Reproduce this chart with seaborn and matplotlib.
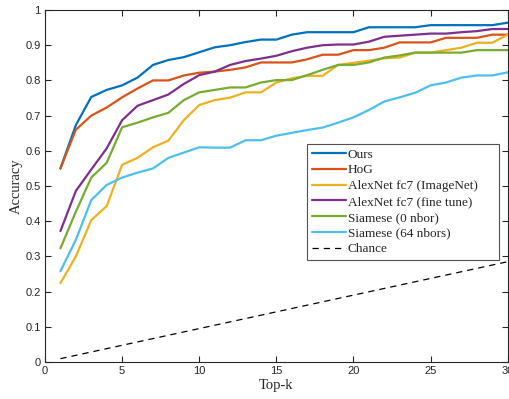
import numpy as np
import pandas as pd
import seaborn as sns
import matplotlib.pyplot as plt

# top-k values
k = list(range(1, 31))

ours = [0.55, 0.673, 0.753, 0.773, 0.786, 0.808, 0.844, 0.858, 0.866, 0.88,
        0.894, 0.90, 0.909, 0.916, 0.916, 0.93, 0.937, 0.937, 0.937, 0.937,
        0.951, 0.951, 0.951, 0.951, 0.957, 0.957, 0.957, 0.957, 0.957, 0.964]
hog = [0.55, 0.66, 0.70, 0.723, 0.752, 0.777, 0.80, 0.80, 0.814, 0.822,
       0.825, 0.83, 0.837, 0.851, 0.851, 0.851, 0.86, 0.873, 0.873, 0.886,
       0.886, 0.893, 0.908, 0.908, 0.908, 0.921, 0.921, 0.921, 0.93, 0.93]
alex_imagenet = [0.224, 0.30, 0.403, 0.443, 0.56, 0.58, 0.61, 0.629, 0.687, 0.73,
                 0.744, 0.751, 0.766, 0.766, 0.794, 0.806, 0.813, 0.813, 0.844, 0.85,
                 0.856, 0.863, 0.865, 0.879, 0.879, 0.886, 0.893, 0.907, 0.907, 0.93]
alex_finetune = [0.372, 0.486, 0.547, 0.607, 0.687, 0.728, 0.744, 0.76, 0.79, 0.815,
                 0.825, 0.844, 0.855, 0.862, 0.87, 0.883, 0.893, 0.90, 0.902, 0.902,
                 0.91, 0.924, 0.927, 0.93, 0.933, 0.933, 0.937, 0.94, 0.946, 0.946]
siamese0 = [0.323, 0.427, 0.524, 0.566, 0.667, 0.68, 0.695, 0.708, 0.744, 0.766,
            0.773, 0.78, 0.78, 0.794, 0.801, 0.801, 0.815, 0.83, 0.844, 0.844,
            0.851, 0.865, 0.871, 0.879, 0.879, 0.879, 0.879, 0.886, 0.886, 0.886]
siamese64 = [0.258, 0.347, 0.46, 0.503, 0.524, 0.538, 0.55, 0.58, 0.595, 0.61,
             0.609, 0.609, 0.63, 0.63, 0.643, 0.651, 0.659, 0.666, 0.68, 0.695,
             0.716, 0.74, 0.752, 0.765, 0.786, 0.794, 0.808, 0.814, 0.814, 0.823]
chance_k = [1, 30]
chance = [0.0095, 0.285]

names = ['Ours', 'HoG', 'AlexNet fc7 (ImageNet)', 'AlexNet fc7 (fine tune)',
         'Siamese (0 nbor)', 'Siamese (64 nbors)']
colors = ['#0072BD', '#D95319', '#EDB120', '#7E2F8E', '#77AC30', '#4DBEEE']
series = [ours, hog, alex_imagenet, alex_finetune, siamese0, siamese64]

df = pd.DataFrame({
    'Top-k': k * len(names),
    'Accuracy': sum(series, []),
    'method': np.repeat(names, len(k)),
})

sns.set_style('white')
plt.rcParams['font.family'] = ['Liberation Sans', 'DejaVu Sans']
axis_col = '#262626'

fig = plt.figure(figsize=(5.09, 3.99), dpi=100)
ax = fig.add_axes([0.0884, 0.0927, 0.9091, 0.8822])

sns.lineplot(data=df, x='Top-k', y='Accuracy', hue='method', hue_order=names,
             palette=colors, linewidth=1.6, ax=ax)
ax.plot(chance_k, chance, color='black', linestyle=(0, (5, 4)), linewidth=0.9,
        label='Chance')

ax.set_xlim(0, 30)
ax.set_ylim(0, 1)
ax.set_xticks([0, 5, 10, 15, 20, 25, 30])
ax.set_yticks(np.arange(0, 1.01, 0.1))
ax.set_yticklabels(['0', '0.1', '0.2', '0.3', '0.4', '0.5', '0.6', '0.7',
                    '0.8', '0.9', '1'])
ax.tick_params(direction='in', length=4, width=0.8, color=axis_col,
               labelcolor=axis_col, labelsize=8, top=True, right=True,
               bottom=True, left=True, pad=3)
for s in ax.spines.values():
    s.set_color(axis_col)
    s.set_linewidth(0.8)

ax.set_xlabel('Top-k', family='Liberation Serif', fontsize=10.5, color=axis_col,
              labelpad=2)
ax.set_ylabel('Accuracy', family='Liberation Serif', fontsize=10.5, color=axis_col,
              labelpad=2)

# legend box stretched to the width of the original one
handles, labels = ax.get_legend_handles_labels()
leg = ax.legend(handles, labels, loc='upper left',
                bbox_to_anchor=(0.566, 0.30, 0.415, 0.32), mode='expand',
                prop={'family': 'Liberation Serif', 'size': 9.5},
                frameon=True, fancybox=False, edgecolor=axis_col,
                handlelength=2.6, handletextpad=0.15, labelspacing=0.27,
                borderpad=0.35, borderaxespad=0)
leg.get_frame().set_linewidth(0.8)

fig.savefig('out.png', dpi=100)
